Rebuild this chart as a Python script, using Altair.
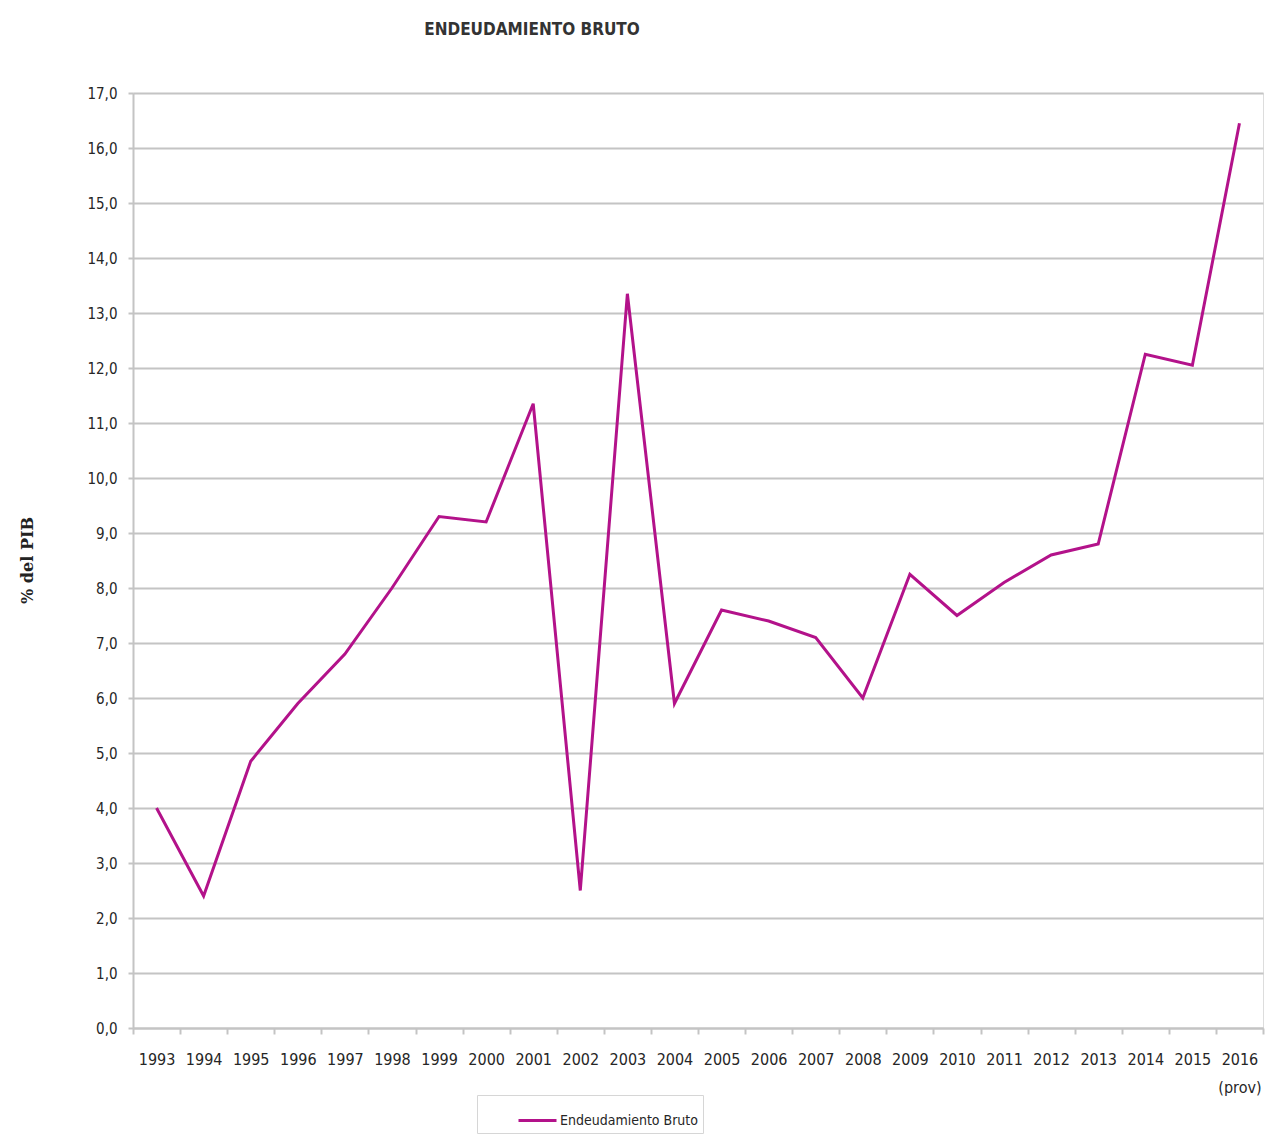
import altair as alt
import pandas as pd

# Gross debt, % of GDP, 1993-2016 (2016 provisional)
years = ["1993", "1994", "1995", "1996", "1997", "1998", "1999", "2000",
         "2001", "2002", "2003", "2004", "2005", "2006", "2007", "2008",
         "2009", "2010", "2011", "2012", "2013", "2014", "2015", "2016"]
debt = [4.0, 2.4, 4.85, 5.9, 6.8, 8.0, 9.3, 9.2,
        11.35, 2.5, 13.35, 5.9, 7.6, 7.4, 7.1, 6.0,
        8.25, 7.5, 8.1, 8.6, 8.8, 12.25, 12.05, 16.45]
series_name = "Endeudamiento Bruto"
y_ticks = list(range(0, 18))

df = pd.DataFrame({"anio": years, "valor": debt, "serie": series_name})

LINE = "#b3128a"
GRID = "#c4c4c4"
TEXT = "#262626"
SANS = "DejaVu Sans Condensed"

chart = alt.Chart(df).mark_line(strokeWidth=3).encode(
    x=alt.X(
        "anio:N",
        sort=years,
        scale=alt.Scale(type="band", paddingInner=0, paddingOuter=0),
        axis=alt.Axis(
            title=None,
            tickBand="extent",
            labelAngle=0,
            grid=False,
            domainColor=GRID,
            domainWidth=2,
            tickColor=GRID,
            tickWidth=2,
            tickSize=6,
            labelPadding=17,
            labelFont=SANS,
            labelFontSize=16,
            labelColor=TEXT,
            labelLineHeight=28,
            labelExpr="datum.value == '2016' ? ['2016', '(prov)'] : datum.value",
        ),
    ),
    y=alt.Y(
        "valor:Q",
        scale=alt.Scale(domain=[0, 17], nice=False),
        axis=alt.Axis(
            values=y_ticks,
            labelExpr="replace(format(datum.value, '.1f'), '.', ',')",
            grid=True,
            gridColor=GRID,
            gridWidth=2,
            domainColor=GRID,
            domainWidth=2,
            tickColor=GRID,
            tickWidth=2,
            tickSize=5,
            labelPadding=11,
            labelFont=SANS,
            labelFontSize=15,
            labelColor=TEXT,
            title="% del PIB",
            titleFont="DejaVu Serif",
            titleFontWeight="bold",
            titleFontSize=16,
            titleColor="#222222",
            titleX=-106,
            titleY=467,
            titleAlign="center",
            titleBaseline="middle",
        ),
    ),
    color=alt.Color(
        "serie:N",
        scale=alt.Scale(range=[LINE]),
        legend=alt.Legend(
            title=None,
            orient="none",
            legendX=344,
            legendY=1002,
            symbolType="stroke",
            symbolSize=1444,
            symbolStrokeWidth=3,
            symbolOffset=35,
            padding=5,
            strokeColor="#d6d6d6",
            labelFont=SANS,
            labelFontSize=14,
            labelColor=TEXT,
            labelOffset=2,
        ),
    ),
).properties(
    width=1130,
    height=935,
    title=alt.TitleParams(
        "ENDEUDAMIENTO BRUTO",
        font=SANS,
        fontSize=17,
        fontWeight="bold",
        color="#333333",
        anchor="middle",
        dx=-166,
        offset=47,
    ),
    autosize=alt.AutoSizeParams(type="none"),
    padding={"left": 133, "top": 93, "right": 5, "bottom": 110},
).configure_view(stroke=None).configure(background="white")

chart.save("out.html", embed_options={"renderer": "svg", "actions": False})
